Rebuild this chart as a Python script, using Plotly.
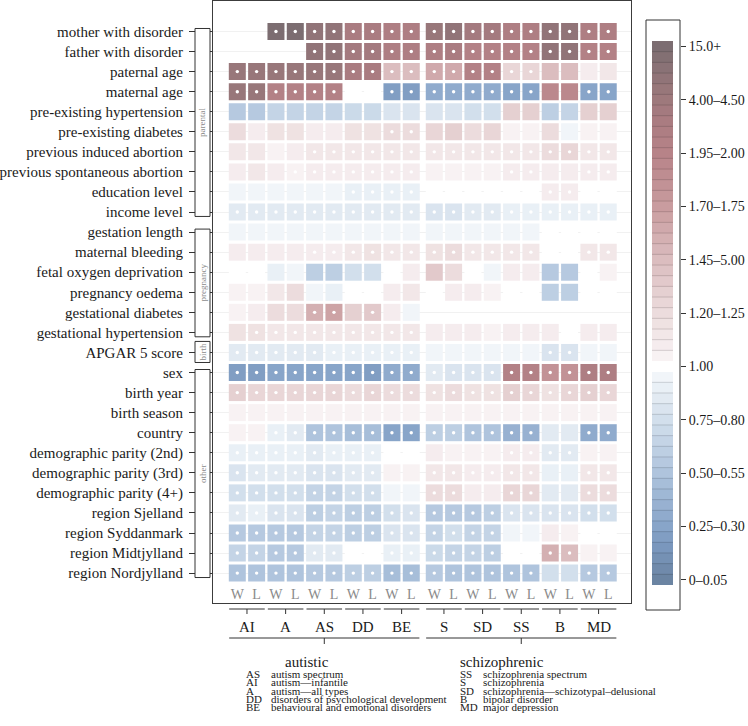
import plotly.graph_objects as go

# ---------------- data ----------------
row_labels = [
    "mother with disorder", "father with disorder", "paternal age", "maternal age",
    "pre-existing hypertension", "pre-existing diabetes", "previous induced abortion",
    "previous spontaneous abortion", "education level", "income level",
    "gestation length", "maternal bleeding", "fetal oxygen deprivation", "pregnancy oedema",
    "gestational diabetes", "gestational hypertension", "APGAR 5 score",
    "sex", "birth year", "birth season", "country", "demographic parity (2nd)",
    "demographic parity (3rd)", "demographic parity (4+)", "region Sjelland",
    "region Syddanmark", "region Midtjylland", "region Nordjylland",
]
row_groups = ["parental", "pregnancy", "birth", "other"]
row_group_spans = [(0, 9), (10, 15), (16, 16), (17, 27)]

disorders = ["AI", "A", "AS", "DD", "BE", "S", "SD", "SS", "B", "MD"]
disorder_classes = ["autistic", "schizophrenic"]
class_members = [(0, 4), (5, 9)]
model_labels = ["W", "L"]

N = None
or_mother = [N, N, 20, 20, 6, 6, 3.2, 3.2, 2.8, 2.8, 4.5, 6, 3.5, 3.5, 2.8, 2.8, 5, 5.5, 2.8, 2.8]
or_father = [N, N, N, N, 6, 6, 3.5, 3.5, 2.5, 2.5, 2.6, 3.0, 2.4, 2.4, 2.2, 2.3, 5, 5, 2.3, 2.3]
or_paternal_age = [4.5, 4.5, 4.5, 4.5, 4.5, 4.5, 3, 3, 1.45, 1.45, 1.6, 1.6, 2.4, 2.4, 1.25, 1.25, 1.45, 1.45, 1.08, 1.12]
or_maternal_age = [4.5, 4.5, 2.3, 2.3, 2.2, 2.2, 0.99, 0.99, 0.22, 0.22, 0.3, 0.3, 0.3, 0.3, 0.28, 0.28, 1.9, 1.9, 0.28, 0.28]
or_pre_hypertension = [0.55, 0.55, 0.65, 0.65, 0.68, 0.68, 0.7, 0.7, 0.8, 0.8, 0.82, 0.8, 0.75, 0.78, 1.3, 1.3, 0.6, 0.65, 1.3, 1.32]
or_pre_diabetes = [1.2, 1.05, 1.18, 1.18, 1.07, 1.07, 1.15, 1.15, 1.2, 1.2, 1.25, 1.3, 1.2, 1.28, 1.02, 1.02, 1.22, 0.95, 1.02, 1.02]
or_induced_abortion = [1.1, 1.1, 1.02, 1.06, 1.1, 1.1, 1.12, 1.12, 1.14, 1.14, 1.14, 1.12, 1.12, 1.12, 1.12, 1.12, 1.22, 1.28, 1.1, 1.1]
or_spont_abortion = [1.05, 1.1, 1.07, 1.04, 1.06, 1.06, 1.07, 1.07, 1.08, 1.08, 1.02, 1.02, 1.02, 1.02, 1.08, 1.08, 1.05, 1.05, 1.07, 1.07]
or_education = [0.97, 0.97, 0.97, 0.98, 0.98, 0.98, 0.93, 0.93, 0.9, 0.9, 0.99, 0.99, 0.99, 0.99, 1.0, 1.0, 1.05, 1.05, 1.01, 1.01]
or_income = [0.88, 0.88, 0.88, 0.88, 0.88, 0.88, 0.88, 0.88, 0.87, 0.87, 0.84, 0.84, 0.87, 0.87, 0.92, 0.92, 0.92, 0.92, 0.9, 0.9]
or_gestation = [0.97, 0.97, 0.98, 0.98, 0.97, 0.97, 0.98, 0.98, 0.97, 0.97, 0.98, 0.98, 0.98, 0.98, 0.98, 0.98, 0.99, 0.99, 0.99, 0.99]
or_bleeding = [1.07, 1.07, 1.06, 1.07, 1.08, 1.08, 1.12, 1.15, 1.14, 1.14, 1.15, 1.22, 1.14, 1.14, 1.12, 1.12, 1.0, 1.0, 1.14, 1.14]
or_fetal_oxygen = [1.0, 1.0, 0.92, 0.97, 0.62, 0.62, 0.76, 0.76, 1.0, 1.05, 1.35, 1.2, 1.0, 0.97, 1.05, 1.05, 0.58, 0.58, 1.0, 1.02]
or_oedema = [1.03, 1.03, 1.1, 1.2, 0.95, 0.94, 1.0, 1.0, 1.05, 1.1, 1.0, 1.05, 1.05, 1.02, 1.0, 1.0, 0.6, 0.6, 1.0, 1.0]
or_gest_diabetes = [1.02, 1.07, 1.2, 1.2, 1.55, 1.65, 1.3, 1.35, 1.05, 0.98, N, N, N, N, N, N, N, N, N, N]
or_gest_hypertension = [1.15, 1.15, 1.14, 1.14, 1.14, 1.14, 1.13, 1.13, 1.1, 1.1, 1.06, 1.06, 1.08, 1.03, 1.06, 1.06, 1.05, 1.0, 1.06, 1.06]
or_apgar = [0.87, 0.87, 0.87, 0.87, 0.88, 0.9, 0.9, 0.9, 0.91, 0.91, 0.97, 0.97, 0.97, 0.97, 0.97, 0.97, 0.8, 0.8, 0.98, 0.98]
or_sex = [0.22, 0.24, 0.25, 0.25, 0.25, 0.25, 0.25, 0.24, 0.32, 0.3, 0.85, 0.82, 0.8, 0.82, 2.3, 2.3, 1.8, 1.8, 2.5, 2.5]
or_birth_year = [1.3, 1.28, 1.27, 1.28, 1.27, 1.25, 1.22, 1.25, 1.22, 1.22, 1.15, 1.2, 1.15, 1.15, 1.32, 1.25, 1.15, 1.25, 1.32, 1.25]
or_birth_season = [1.03, 1.02, 1.02, 1.02, 1.02, 1.02, 1.02, 1.02, 1.02, 1.02, 1.015, 1.015, 1.015, 1.015, 1.015, 1.015, 1.015, 1.015, 1.015, 1.015]
or_country = [1.03, 1.03, 0.9, 0.88, 0.52, 0.52, 0.45, 0.45, 0.28, 0.28, 0.62, 0.64, 0.5, 0.5, 0.36, 0.36, 0.88, 0.88, 0.33, 0.33]
or_parity2 = [0.9, 0.9, 0.9, 0.9, 0.88, 0.9, 0.93, 0.93, 1.01, 1.01, 1.05, 1.04, 1.04, 1.03, 1.05, 1.05, 0.88, 0.88, 1.03, 1.03]
or_parity3 = [0.84, 0.85, 0.85, 0.85, 0.8, 0.82, 0.88, 0.88, 1.02, 1.04, 1.1, 1.14, 1.07, 1.06, 1.1, 1.1, 0.9, 0.9, 1.14, 1.14]
or_parity4 = [0.75, 0.75, 0.75, 0.75, 0.65, 0.65, 0.76, 0.76, 0.98, 0.98, 1.22, 1.2, 1.08, 1.08, 1.25, 1.25, 0.87, 0.87, 1.2, 1.2]
or_sjelland = [0.88, 0.92, 0.8, 0.8, 0.6, 0.68, 0.62, 0.62, 0.76, 0.8, 0.55, 0.57, 0.57, 0.62, 0.8, 0.8, 0.8, 0.8, 0.78, 0.78]
or_syddanmark = [0.58, 0.55, 0.58, 0.55, 0.68, 0.68, 0.64, 0.64, 0.8, 0.8, 0.66, 0.76, 0.68, 0.68, 0.95, 0.95, 1.05, 1.03, 0.99, 0.99]
or_midtjylland = [0.66, 0.66, 0.58, 0.58, 0.86, 0.86, 0.99, 0.99, 0.93, 0.93, 0.7, 0.68, 0.66, 0.64, 1.0, 1.0, 1.55, 1.45, 1.02, 1.02]
or_nordjylland = [0.52, 0.52, 0.52, 0.52, 0.56, 0.56, 0.63, 0.63, 0.45, 0.45, 0.58, 0.52, 0.52, 0.52, 0.5, 0.5, 0.76, 0.76, 0.55, 0.55]

# significance (1 = white dot)
sig_mother = [0, 0, 1, 1, 1, 1, 1, 1, 1, 1, 1, 1, 1, 1, 1, 1, 1, 1, 1, 1]
sig_father = [0, 0, 0, 0, 1, 1, 1, 1, 1, 1, 1, 1, 1, 1, 1, 1, 1, 1, 1, 1]
sig_paternal_age = [1, 1, 1, 1, 1, 1, 1, 1, 1, 1, 1, 1, 1, 1, 1, 1, 0, 0, 0, 0]
sig_maternal_age = [1, 1, 1, 1, 1, 1, 0, 0, 1, 1, 1, 1, 1, 1, 1, 1, 0, 0, 1, 1]
sig_pre_hypertension = [0] * 20
sig_pre_diabetes = [0, 0, 0, 0, 0, 0, 0, 0, 1, 1, 0, 0, 0, 0, 0, 0, 0, 0, 0, 0]
sig_induced_abortion = [0, 0, 0, 0, 1, 1, 1, 1, 1, 1, 1, 1, 1, 1, 1, 1, 1, 1, 1, 1]
sig_spont_abortion = [0, 0, 0, 1, 1, 1, 1, 1, 1, 1, 0, 0, 0, 0, 1, 1, 0, 0, 1, 1]
sig_education = [0, 0, 0, 0, 0, 0, 1, 1, 1, 1, 0, 0, 0, 0, 0, 0, 1, 1, 0, 0]
sig_income = [1] * 20
sig_gestation = [0] * 20
sig_bleeding = [0, 0, 0, 0, 1, 1, 1, 1, 1, 1, 1, 1, 1, 1, 1, 1, 0, 0, 1, 1]
sig_fetal_oxygen = [0] * 20
sig_oedema = [0] * 20
sig_gest_diabetes = [0, 0, 0, 0, 1, 1, 0, 1, 0, 0, 0, 0, 0, 0, 0, 0, 0, 0, 0, 0]
sig_gest_hypertension = [0, 1, 1, 1, 1, 1, 1, 1, 1, 1, 0, 0, 0, 0, 0, 0, 0, 0, 0, 0]
sig_apgar = [1, 1, 1, 1, 1, 1, 1, 1, 1, 1, 0, 0, 0, 0, 0, 0, 1, 1, 0, 0]
sig_sex = [1] * 20
sig_birth_year = [1] * 20
sig_birth_season = [0] * 20
sig_country = [0, 0, 1, 1, 1, 1, 1, 1, 1, 1, 1, 1, 1, 1, 1, 1, 0, 0, 1, 1]
sig_parity2 = [1, 1, 1, 1, 1, 1, 1, 1, 0, 0, 0, 0, 0, 0, 1, 1, 1, 1, 0, 0]
sig_parity3 = [1, 1, 1, 1, 1, 1, 1, 1, 0, 0, 1, 1, 1, 1, 1, 1, 0, 0, 1, 1]
sig_parity4 = [1, 1, 1, 1, 1, 1, 1, 1, 0, 0, 1, 1, 0, 0, 1, 1, 0, 0, 1, 1]
sig_sjelland = [1] * 20
sig_syddanmark = [1, 1, 1, 1, 1, 1, 1, 1, 1, 1, 1, 1, 1, 1, 0, 0, 0, 0, 0, 0]
sig_midtjylland = [1, 1, 1, 1, 1, 1, 0, 0, 1, 1, 1, 1, 1, 1, 0, 0, 1, 1, 0, 0]
sig_nordjylland = [1, 1, 1, 1, 1, 1, 1, 1, 1, 1, 1, 1, 1, 1, 1, 1, 0, 0, 1, 1]

colorbar_tick_bins = [0, 5, 10, 15, 20, 25, 30, 35, 40, 45, 50]
colorbar_tick_text = ["0–0.05", "0.25–0.30", "0.50–0.55", "0.75–0.80", "1.00", "1.20–1.25",
                      "1.45–5.00", "1.70–1.75", "1.95–2.00", "4.00–4.50", "15.0+"]

legend_autistic = [("AS", "autism spectrum"), ("AI", "autism—infantile"), ("A", "autism—all types"),
                   ("DD", "disorders of psychological development"),
                   ("BE", "behavioural and emotional disorders")]
legend_schizo = [("SS", "schizophrenia spectrum"), ("S", "schizophrenia"),
                 ("SD", "schizophrenia—schizotypal–delusional"), ("B", "bipolar disorder"),
                 ("MD", "major depression")]

values = [or_mother, or_father, or_paternal_age, or_maternal_age, or_pre_hypertension,
          or_pre_diabetes, or_induced_abortion, or_spont_abortion, or_education, or_income,
          or_gestation, or_bleeding, or_fetal_oxygen, or_oedema, or_gest_diabetes,
          or_gest_hypertension, or_apgar, or_sex, or_birth_year, or_birth_season, or_country,
          or_parity2, or_parity3, or_parity4, or_sjelland, or_syddanmark, or_midtjylland,
          or_nordjylland]
sigs = [sig_mother, sig_father, sig_paternal_age, sig_maternal_age, sig_pre_hypertension,
        sig_pre_diabetes, sig_induced_abortion, sig_spont_abortion, sig_education, sig_income,
        sig_gestation, sig_bleeding, sig_fetal_oxygen, sig_oedema, sig_gest_diabetes,
        sig_gest_hypertension, sig_apgar, sig_sex, sig_birth_year, sig_birth_season, sig_country,
        sig_parity2, sig_parity3, sig_parity4, sig_sjelland, sig_syddanmark, sig_midtjylland,
        sig_nordjylland]

# ---------------- styling helpers ----------------
W, H = 748, 726
FONT = "Liberation Serif, Times New Roman, serif"


def pxx(p):
    return p / W


def pxy(p):
    return 1 - p / H


anchors = [(0, "#6b84a2"), (3, "#7a97bd"), (5, "#88a5c9"), (10, "#afc4dd"), (15, "#d2dfec"),
           (19, "#f1f5f9"), (20, "#ffffff"), (21, "#f8f2f3"), (25, "#ecdcdd"), (30, "#dbbdbf"),
           (35, "#c99c9f"), (40, "#b78388"), (43, "#aa7c81"), (46, "#98777a"), (50, "#7c6d71")]


def hex2rgb(h):
    h = h.lstrip("#")
    return [int(h[i:i + 2], 16) for i in (0, 2, 4)]


def rgb2hex(c):
    return "#%02x%02x%02x" % tuple(int(round(v)) for v in c)


palette = []
for i in range(51):
    for (a, ca), (b, cb) in zip(anchors[:-1], anchors[1:]):
        if a <= i <= b:
            t = (i - a) / (b - a)
            c1, c2 = hex2rgb(ca), hex2rgb(cb)
            palette.append(rgb2hex([c1[k] + (c2[k] - c1[k]) * t for k in range(3)]))
            break

upper_edges = [2.5, 3.0, 3.5, 4.0, 4.5, 5.0, 7.5, 10.0, 15.0]


def bin_index(v):
    if abs(v - 1) < 0.012:
        return 20
    if v < 1:
        return min(19, int(v / 0.05 + 1e-9))
    if v < 2:
        return 21 + min(19, int((v - 1) / 0.05 + 1e-9))
    for k, e in enumerate(upper_edges):
        if v < e:
            return 41 + k
    return 50


GAP = 0.19
xpos = [i + (GAP if i >= 10 else 0) for i in range(20)]
col_text = [model_labels[i % 2] for i in range(20)]

fig = go.Figure()

cx, cy, cc, dx, dy = [], [], [], [], []
for r, (vals, sg) in enumerate(zip(values, sigs)):
    for c, v in enumerate(vals):
        if v is None:
            continue
        cx.append(xpos[c])
        cy.append(r)
        cc.append(palette[bin_index(v)])
        if sg[c]:
            dx.append(xpos[c])
            dy.append(r)

fig.add_trace(go.Scatter(x=cx, y=cy, mode="markers", hoverinfo="skip", showlegend=False,
                         marker=dict(symbol="square", size=17, color=cc, line=dict(width=0))))
fig.add_trace(go.Scatter(x=dx, y=dy, mode="markers", hoverinfo="skip", showlegend=False,
                         marker=dict(symbol="circle", size=3.4, color="white", line=dict(width=0))))

# colour bar as its own small heatmap
fig.add_trace(go.Heatmap(z=[[i] for i in range(51)], x=[0], y=list(range(51)),
                         colorscale=[[i / 50, palette[i]] for i in range(51)], zmin=0, zmax=50,
                         showscale=False, hoverinfo="skip", xaxis="x2", yaxis="y2"))

# axes geometry (pixels)
X0, X1, Y0, Y1 = 213, 631, 1, 602.5
ROW0, ROWSTEP = 31.5, 20.06
COL0, COLSTEP = 237.3, 19.33
xr = [(X0 - COL0) / COLSTEP, (X1 - COL0) / COLSTEP]
yr = [(Y1 - ROW0) / ROWSTEP, (Y0 - ROW0) / ROWSTEP]

fig.update_layout(
    width=W, height=H, autosize=False, margin=dict(l=0, r=0, t=0, b=0, autoexpand=False),
    paper_bgcolor="white", plot_bgcolor="white", showlegend=False,
    font=dict(family=FONT, color="#1a1a1a"),
    xaxis=dict(domain=[pxx(X0), pxx(X1)], range=xr, tickvals=xpos, ticktext=col_text, automargin=False,
               ticks="", ticklabelposition="inside", tickfont=dict(size=14, color="#8a8a8a", family=FONT),
               showline=True, mirror=True, linecolor="#3c3c3c", linewidth=1.2,
               showgrid=False, zeroline=False, fixedrange=True),
    yaxis=dict(domain=[pxy(Y1), pxy(Y0)], range=yr, tickvals=list(range(len(row_labels))),
               ticktext=row_labels, ticks="outside", ticklen=23, tickcolor="#333333", tickwidth=1,
               automargin=False,
               ticklabelstandoff=3, tickfont=dict(size=15, color="#1a1a1a", family=FONT),
               showline=True, mirror=True, linecolor="#3c3c3c", linewidth=1.2,
               showgrid=True, gridcolor="#f1f1f1", gridwidth=1, zeroline=False, fixedrange=True),
    xaxis2=dict(domain=[pxx(652), pxx(673)], anchor="y2", range=[-0.5, 0.5], visible=False,
                automargin=False, fixedrange=True),
    yaxis2=dict(domain=[pxy(585), pxy(41)], anchor="free", position=pxx(680), side="right",
                range=[-0.5, 50.5], tickvals=colorbar_tick_bins, ticktext=colorbar_tick_text,
                ticks="outside", ticklen=5, tickcolor="#333333", tickwidth=1, automargin=False,
                tickfont=dict(size=14, color="#1a1a1a", family=FONT),
                showline=False, showgrid=False, zeroline=False, fixedrange=True),
)

shapes = []
annotations = []

# colour bar frame + band separators
shapes.append(dict(type="rect", xref="paper", yref="paper", x0=pxx(646), x1=pxx(680),
                   y0=pxy(610), y1=pxy(20), line=dict(color="#333333", width=1), layer="above"))
for i in range(50):
    if i in (19, 20):
        continue
    base = hex2rgb(palette[i + 1] if i >= 20 else palette[i])
    sep = rgb2hex([v * 0.86 for v in base])
    shapes.append(dict(type="line", xref="x2 domain", yref="y2", x0=0, x1=1, y0=i + 0.5, y1=i + 0.5,
                       line=dict(color=sep, width=1), layer="above"))

# row-group brackets on the left
for name, (a, b) in zip(row_groups, row_group_spans):
    if a == b:
        lo, hi = a - 0.55, b + 0.5
    else:
        lo, hi = a - 0.15, b + 0.22
    shapes.append(dict(type="rect", xref="paper", yref="y", x0=pxx(195), x1=pxx(210), y0=lo, y1=hi,
                       fillcolor="white", line=dict(color="#333333", width=1), layer="above"))
    annotations.append(dict(xref="paper", yref="y", x=pxx(202.5), y=(lo + hi) / 2, text=name,
                            textangle=-90, showarrow=False, font=dict(size=9, color="#8a8a8a", family=FONT),
                            xanchor="center", yanchor="middle"))

# disorder brackets below the plot
SEG_Y, SEG_TICK = 609, 614
LAB_Y = 627
CLS_Y, CLS_TICK = 638, 644
half = 0.92
for g, name in enumerate(disorders):
    c = (xpos[2 * g] + xpos[2 * g + 1]) / 2
    shapes.append(dict(type="line", xref="x", yref="paper", x0=c - half, x1=c + half,
                       y0=pxy(SEG_Y), y1=pxy(SEG_Y), line=dict(color="#333333", width=1)))
    shapes.append(dict(type="line", xref="x", yref="paper", x0=c, x1=c,
                       y0=pxy(SEG_Y), y1=pxy(SEG_TICK), line=dict(color="#333333", width=1)))
    annotations.append(dict(xref="x", yref="paper", x=c, y=pxy(LAB_Y), text=name, showarrow=False,
                            font=dict(size=15, color="#1a1a1a", family=FONT),
                            xanchor="center", yanchor="middle"))

for (a, b) in class_members:
    left = (xpos[2 * a] + xpos[2 * a + 1]) / 2 - half
    right = (xpos[2 * b] + xpos[2 * b + 1]) / 2 + half
    shapes.append(dict(type="line", xref="x", yref="paper", x0=left, x1=right,
                       y0=pxy(CLS_Y), y1=pxy(CLS_Y), line=dict(color="#333333", width=1)))
    shapes.append(dict(type="line", xref="x", yref="paper", x0=(left + right) / 2, x1=(left + right) / 2,
                       y0=pxy(CLS_Y), y1=pxy(CLS_TICK), line=dict(color="#333333", width=1)))

# class titles and abbreviation tables
annotations.append(dict(xref="paper", yref="paper", x=pxx(307), y=pxy(662), text=disorder_classes[0],
                        showarrow=False, font=dict(size=15, color="#1a1a1a", family=FONT),
                        xanchor="center", yanchor="middle"))
annotations.append(dict(xref="paper", yref="paper", x=pxx(458), y=pxy(662), text=disorder_classes[1],
                        showarrow=False, font=dict(size=15, color="#1a1a1a", family=FONT),
                        xanchor="left", yanchor="middle"))
TAB_Y0, TAB_STEP = 674, 8.3
for table, xa, xd in ((legend_autistic, 244, 269), (legend_schizo, 458, 481)):
    for k, (ab, desc) in enumerate(table):
        y = pxy(TAB_Y0 + k * TAB_STEP)
        annotations.append(dict(xref="paper", yref="paper", x=pxx(xa), y=y, text=ab, showarrow=False,
                                font=dict(size=11, color="#1a1a1a", family=FONT),
                                xanchor="left", yanchor="middle"))
        annotations.append(dict(xref="paper", yref="paper", x=pxx(xd), y=y, text=desc, showarrow=False,
                                font=dict(size=11, color="#1a1a1a", family=FONT),
                                xanchor="left", yanchor="middle"))

fig.update_layout(shapes=shapes, annotations=annotations)
fig.write_html("out.html", config={"displayModeBar": False},
               post_script="document.body.style.margin='0';document.body.style.overflow='hidden';")
